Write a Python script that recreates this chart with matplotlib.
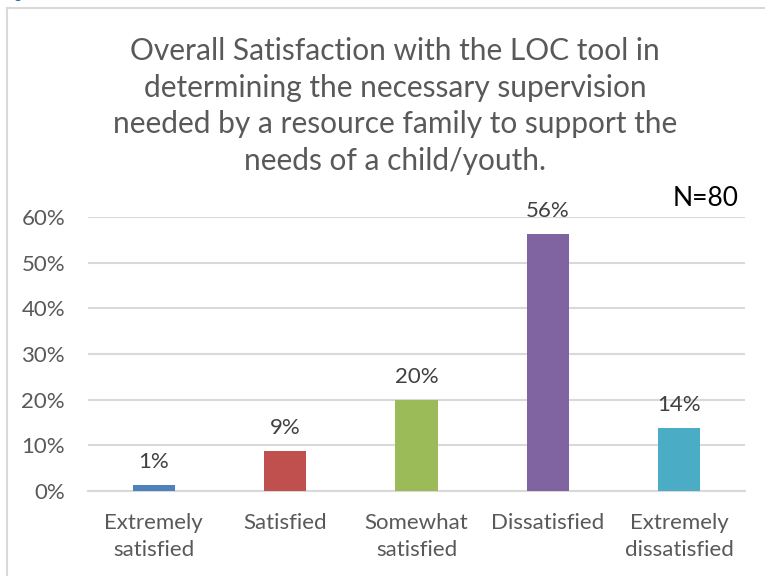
import matplotlib
matplotlib.use("Agg")
import matplotlib.pyplot as plt
from matplotlib.lines import Line2D

categories = ["Extremely\nsatisfied", "Satisfied", "Somewhat\nsatisfied", "Dissatisfied", "Extremely\ndissatisfied"]
values = [1.25, 8.75, 20.0, 56.25, 13.75]
labels = ["1%", "9%", "20%", "56%", "14%"]
colors = ["#4F81BD", "#C0504D", "#9BBB59", "#8064A2", "#4BACC6"]
yticks = [0, 10, 20, 30, 40, 50, 60]
title = ("Overall Satisfaction with the LOC tool in\ndetermining the necessary supervision\n"
         "needed by a resource family to support the\nneeds of a child/youth.")

plt.rcParams['font.family'] = ['Lato', 'DejaVu Sans']
W, H = 765, 576
fig = plt.figure(figsize=(W/100, H/100), dpi=100)

# chart border (left/top visible)
fig.add_artist(Line2D([7/W, 7/W], [0, 1-8/H], color="#D9D9D9", lw=1.5, transform=fig.transFigure))
fig.add_artist(Line2D([7/W, 1], [1-8/H, 1-8/H], color="#D9D9D9", lw=1.5, transform=fig.transFigure))
fig.text(2/W, 1+6/H, "Figure 13", color="#1F5FA8", fontsize=11, va="center", ha="left")

ax = fig.add_axes([88/W, 1-491/H, (745-88)/W, (491-217)/H])
x = list(range(len(categories)))
ax.bar(x, values, width=0.32, color=colors, zorder=3)
for xi, v, l in zip(x, values, labels):
    ax.text(xi, v + 5.0, l, ha="center", va="center", fontsize=16, color="#404040")
ax.set_xlim(-0.5, 4.5)
ax.set_ylim(0, 60)
ax.set_yticks(yticks)
ax.set_yticklabels([f"{t}%" for t in yticks], fontsize=16, color="#595959")
ax.set_xticks(x)
ax.set_xticklabels(categories, fontsize=16, color="#595959", linespacing=1.46)
ax.tick_params(length=0, pad=16.5, axis="y")
ax.tick_params(length=0, pad=15.5, axis="x")
ax.grid(axis="y", color="#D9D9D9", lw=1.5, zorder=0)
for s in ["top", "right", "left"]:
    ax.spines[s].set_visible(False)
ax.spines["bottom"].set_color("#D9D9D9")
ax.spines["bottom"].set_linewidth(1.5)

fig.text(395/W, 1-106/H, title, ha="center", va="center", fontsize=21.5, color="#595959", linespacing=1.38)
fig.text(706/W, 1-198/H, "N=80", ha="center", va="center", fontsize=19, color="#000000")

fig.savefig("out.png", dpi=100)
